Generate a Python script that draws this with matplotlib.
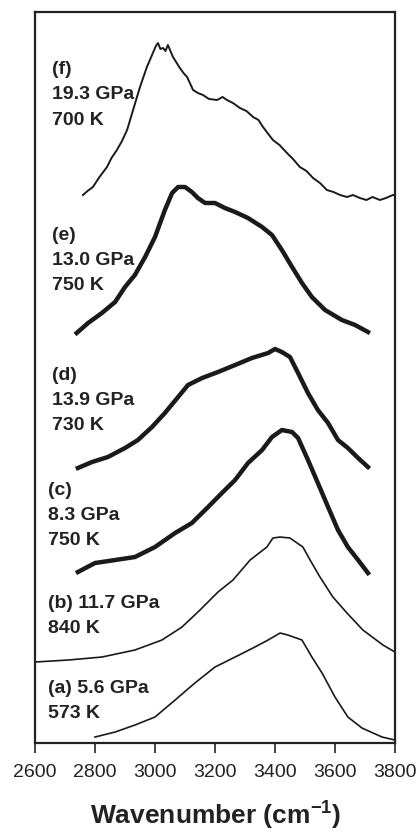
import matplotlib
matplotlib.use("Agg")
import matplotlib.pyplot as plt

plt.rcParams["font.family"] = ["Liberation Sans", "DejaVu Sans"]
plt.rcParams["mathtext.fontset"] = "custom"
plt.rcParams["mathtext.rm"] = "Liberation Sans"
plt.rcParams["mathtext.bf"] = "Liberation Sans:bold"

# spectra, stacked with offsets (arbitrary intensity units)
wn_f = [2760, 2775, 2793, 2815, 2840, 2855, 2873, 2890, 2907, 2927, 2950, 2973, 2993,
        3003, 3010, 3018, 3027, 3035, 3043, 3060, 3083, 3095, 3107, 3127, 3143, 3160,
        3180, 3207, 3225, 3240, 3260, 3283, 3305, 3327, 3345, 3360, 3393, 3415, 3440,
        3460, 3483, 3505, 3527, 3550, 3573, 3595, 3617, 3640, 3660, 3683, 3705, 3725,
        3750, 3770, 3793, 3800]
int_f = [548, 552, 556, 566, 576, 585, 593, 602, 613, 633, 656, 676, 690,
         697, 700, 694, 695, 692, 698, 686, 675, 670, 666, 653, 650, 648,
         644, 643, 646, 643, 640, 635, 632, 626, 623, 616, 603, 598, 590,
         584, 576, 572, 565, 560, 553, 551, 548, 546, 548, 545, 543, 546,
         543, 545, 548, 548]

wn_e = [2739, 2777, 2823, 2867, 2900, 2933, 2967, 3000, 3033, 3057, 3077, 3100, 3123,
        3143, 3167, 3200, 3233, 3267, 3310, 3357, 3390, 3423, 3457, 3490, 3523, 3567,
        3623, 3667, 3710]
int_e = [410, 420, 430, 441, 456, 468, 486, 506, 533, 550, 556, 556, 551,
         545, 540, 540, 535, 531, 525, 516, 508, 493, 476, 460, 446, 433,
         423, 418, 411]

wn_d = [2743, 2790, 2843, 2900, 2943, 2990, 3033, 3077, 3110, 3157, 3210, 3267, 3323,
        3377, 3400, 3423, 3450, 3477, 3510, 3543, 3577, 3610, 3643, 3677, 3710]
int_d = [275, 281, 286, 295, 303, 316, 330, 346, 358, 365, 371, 378, 385,
         390, 394, 391, 386, 370, 350, 333, 320, 303, 295, 285, 276]

wn_c = [2743, 2800, 2867, 2933, 3000, 3067, 3123, 3177, 3223, 3267, 3310, 3357, 3390,
        3423, 3457, 3477, 3510, 3543, 3577, 3610, 3643, 3677, 3710]
int_c = [171, 180, 183, 186, 196, 210, 220, 236, 250, 263, 280, 293, 306,
         313, 311, 305, 283, 260, 236, 213, 196, 183, 170]

wn_b = [2600, 2710, 2823, 2933, 3023, 3090, 3150, 3210, 3260, 3317, 3373, 3393, 3417,
        3450, 3493, 3517, 3550, 3593, 3640, 3693, 3760, 3800]
int_b = [81, 83, 86, 93, 103, 116, 133, 151, 163, 183, 196, 205, 206,
         205, 196, 183, 166, 146, 130, 113, 98, 91]

wn_a = [2800, 2867, 2933, 3000, 3067, 3133, 3200, 3267, 3333, 3377, 3417, 3443, 3490,
        3523, 3557, 3600, 3643, 3690, 3757, 3800]
int_a = [6, 11, 18, 26, 43, 60, 76, 86, 96, 103, 110, 108, 103,
         86, 70, 46, 26, 15, 6, 3]

labels = [
    ["(f)", "19.3 GPa", "700 K"],
    ["(e)", "13.0 GPa", "750 K"],
    ["(d)", "13.9 GPa", "730 K"],
    ["(c)", "8.3 GPa", "750 K"],
    ["(b) 11.7 GPa", "840 K"],
    ["(a) 5.6 GPa", "573 K"],
]
label_x = [2657, 2657, 2657, 2643, 2643, 2643]
label_y = [673, 508, 368, 253, 140, 55]

xticks = [2600, 2800, 3000, 3200, 3400, 3600, 3800]

fig = plt.figure(figsize=(4.17, 8.33), dpi=100)
ax = fig.add_axes([0.0839, 0.108, 0.8633, 0.8776])

ax.plot(wn_f, int_f, color="#1a1a1a", lw=1.4)
ax.plot(wn_e, int_e, color="#1a1a1a", lw=3.2)
ax.plot(wn_d, int_d, color="#1a1a1a", lw=3.2)
ax.plot(wn_c, int_c, color="#1a1a1a", lw=3.2)
ax.plot(wn_b, int_b, color="#1a1a1a", lw=1.2)
ax.plot(wn_a, int_a, color="#1a1a1a", lw=1.2)

for lines, x0, y0 in zip(labels, label_x, label_y):
    for i, s in enumerate(lines):
        ax.text(x0, y0 - i * 25, s, fontsize=14, fontweight="bold",
                color="#222222", ha="left", va="center")

ax.set_xlim(2600, 3800)
ax.set_ylim(0, 731)
ax.set_xticks(xticks)
ax.set_yticks([])
ax.tick_params(axis="x", direction="out", length=7, width=1.2, labelsize=14,
               colors="#222222", pad=8)
for sp in ax.spines.values():
    sp.set_linewidth(1.6)
    sp.set_color("#222222")

fig.text(0.5168, 1 - 815 / 833, r"Wavenumber (cm$^{\mathbf{-1}}$)", fontsize=19,
         fontweight="bold", color="#222222", ha="center", va="center")

fig.savefig("out.png", dpi=100)
plt.close()
